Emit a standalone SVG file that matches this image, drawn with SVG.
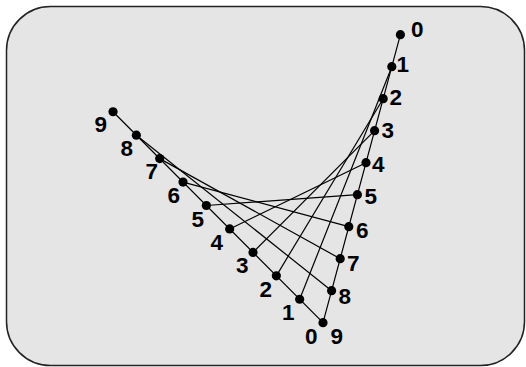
<svg xmlns="http://www.w3.org/2000/svg" width="526" height="367" viewBox="0 0 526 367">
<style>
.bg{fill:#e5e5e5;stroke:#222;stroke-width:1.5}
.ln{stroke:#000;stroke-width:1.2;fill:none}
.pt{fill:#000}
.lb{font-family:"Liberation Sans",Arial,sans-serif;font-weight:bold;font-size:22.5px;fill:#000}
</style>
<rect class="bg" x="6.5" y="6.5" width="518" height="359" rx="44" ry="44"/>
<g id="connectors">
<polyline class="ln" points="400.4,34.7 323,322.7 113.03,111.74"/>
<line class="ln" x1="391.8" y1="66.7" x2="299.67" y2="299.26"/>
<line class="ln" x1="383.2" y1="98.7" x2="276.34" y2="275.82"/>
<line class="ln" x1="374.6" y1="130.7" x2="253.01" y2="252.38"/>
<line class="ln" x1="366.0" y1="162.7" x2="229.68" y2="228.94"/>
<line class="ln" x1="357.4" y1="194.7" x2="206.35" y2="205.5"/>
<line class="ln" x1="348.8" y1="226.7" x2="183.02" y2="182.06"/>
<line class="ln" x1="340.2" y1="258.7" x2="159.69" y2="158.62"/>
<line class="ln" x1="331.6" y1="290.7" x2="136.36" y2="135.18"/>
</g>
<g id="R0"><circle class="pt" cx="400.4" cy="34.7" r="4.6"/><text class="lb" x="411" y="37">0</text></g>
<g id="R1"><circle class="pt" cx="391.8" cy="66.7" r="4.6"/><text class="lb" x="396.5" y="72">1</text></g>
<g id="R2"><circle class="pt" cx="383.2" cy="98.7" r="4.6"/><text class="lb" x="389.5" y="104.5">2</text></g>
<g id="R3"><circle class="pt" cx="374.6" cy="130.7" r="4.6"/><text class="lb" x="381.5" y="137.5">3</text></g>
<g id="R4"><circle class="pt" cx="366.0" cy="162.7" r="4.6"/><text class="lb" x="372" y="171.5">4</text></g>
<g id="R5"><circle class="pt" cx="357.4" cy="194.7" r="4.6"/><text class="lb" x="364.5" y="204">5</text></g>
<g id="R6"><circle class="pt" cx="348.8" cy="226.7" r="4.6"/><text class="lb" x="356" y="237.5">6</text></g>
<g id="R7"><circle class="pt" cx="340.2" cy="258.7" r="4.6"/><text class="lb" x="347" y="270.5">7</text></g>
<g id="R8"><circle class="pt" cx="331.6" cy="290.7" r="4.6"/><text class="lb" x="338.5" y="304">8</text></g>
<g id="L0R9"><circle class="pt" cx="323" cy="322.7" r="4.6"/><text class="lb" x="305" y="343.5">0</text><text class="lb" x="330.5" y="343.5">9</text></g>
<g id="L1"><circle class="pt" cx="299.67" cy="299.26" r="4.6"/><text class="lb" x="282" y="320">1</text></g>
<g id="L2"><circle class="pt" cx="276.34" cy="275.82" r="4.6"/><text class="lb" x="259.5" y="296.7">2</text></g>
<g id="L3"><circle class="pt" cx="253.01" cy="252.38" r="4.6"/><text class="lb" x="236" y="273.3">3</text></g>
<g id="L4"><circle class="pt" cx="229.68" cy="228.94" r="4.6"/><text class="lb" x="210.5" y="250">4</text></g>
<g id="L5"><circle class="pt" cx="206.35" cy="205.5" r="4.6"/><text class="lb" x="191.5" y="226.7">5</text></g>
<g id="L6"><circle class="pt" cx="183.02" cy="182.06" r="4.6"/><text class="lb" x="167.5" y="203.3">6</text></g>
<g id="L7"><circle class="pt" cx="159.69" cy="158.62" r="4.6"/><text class="lb" x="145.5" y="179.3">7</text></g>
<g id="L8"><circle class="pt" cx="136.36" cy="135.18" r="4.6"/><text class="lb" x="120.5" y="156">8</text></g>
<g id="L9"><circle class="pt" cx="113.03" cy="111.74" r="4.6"/><text class="lb" x="94.5" y="131.7">9</text></g>
</svg>
